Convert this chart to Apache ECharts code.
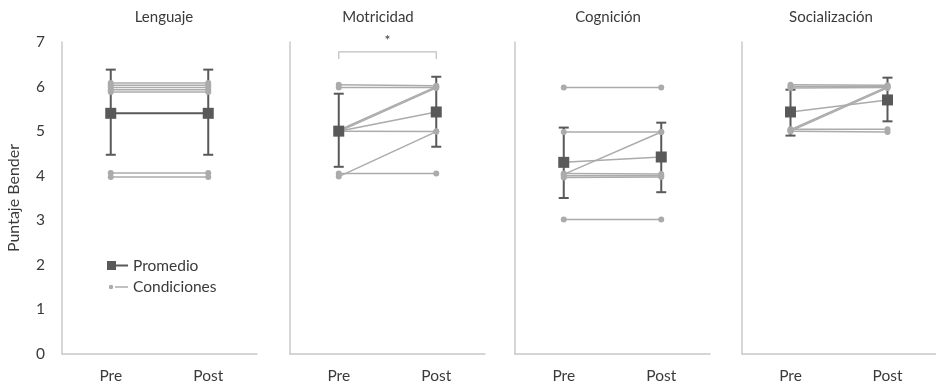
<!DOCTYPE html>
<html><head><meta charset="utf-8">
<script src="https://cdn.jsdelivr.net/npm/echarts@6/dist/echarts.min.js"></script>
<style>html,body{margin:0;padding:0;background:#fff}#c{width:936px;height:388px}</style>
</head><body><div id="c"></div>
<script>
// ---- data ----
const categories = ['Pre', 'Post'];
const panelTitles = ['Lenguaje', 'Motricidad', 'Cognición', 'Socialización'];
const yTicks = [0, 1, 2, 3, 4, 5, 6, 7];
const meanPre = [5.4, 5.0, 4.3, 5.43];
const meanPost = [5.4, 5.43, 4.42, 5.7];
const errPreLow = [4.47, 4.2, 3.5, 4.9];
const errPreHigh = [6.38, 5.84, 5.08, 5.93];
const errPostLow = [4.47, 4.65, 3.63, 5.22];
const errPostHigh = [6.38, 6.22, 5.19, 6.2];
// individual conditions (pre, post), slightly jittered as in the picture
const lenguajePre = [6.08, 6.03, 5.98, 5.93, 5.88, 4.06, 3.97];
const lenguajePost = [6.08, 6.03, 5.98, 5.93, 5.88, 4.06, 3.97];
const motricidadPre = [6.04, 5.98, 5.02, 4.99, 5.0, 3.98, 4.05];
const motricidadPost = [6.02, 5.98, 6.0, 5.97, 4.99, 4.99, 4.05];
const cognicionPre = [5.98, 4.98, 4.03, 4.05, 4.0, 3.96, 3.02];
const cognicionPost = [5.98, 4.98, 4.98, 4.04, 4.0, 3.97, 3.02];
const socializacionPre = [6.04, 6.0, 5.97, 5.03, 5.0, 5.04, 5.0];
const socializacionPost = [6.03, 6.0, 5.98, 6.0, 5.97, 5.04, 4.98];
const condPre = [lenguajePre, motricidadPre, cognicionPre, socializacionPre];
const condPost = [lenguajePost, motricidadPost, cognicionPost, socializacionPost];
const legendNames = ['Promedio', 'Condiciones'];
const sigStar = '*';

// ---- layout ----
const FONT = 'Lato, "Noto Sans", sans-serif';
const lefts = [62, 290, 515, 742];
const titleX = [164, 378, 608, 831];
const W = 195, TOP = 42, H = 312;
const DARK = '#595959', GRAY = '#ababab', AXIS = '#c8c8c8', TXT = '#3a3a3a';
const meanLineColor = [DARK, GRAY, GRAY, GRAY];

const grid = [], xAxis = [], yAxis = [], series = [];
for (let p = 0; p < 4; p++) {
  grid.push({ left: lefts[p], top: TOP, width: W, height: H });
  xAxis.push({
    type: 'category', gridIndex: p, data: categories, boundaryGap: true,
    axisLine: { lineStyle: { color: AXIS, width: 1.5 } }, axisTick: { show: false },
    axisLabel: { color: TXT, fontSize: 15.5, fontFamily: FONT, margin: 14 }
  });
  yAxis.push({
    type: 'value', gridIndex: p, min: yTicks[0], max: yTicks[yTicks.length - 1], interval: 1,
    axisLine: { show: true, lineStyle: { color: AXIS, width: 1.5 } }, axisTick: { show: false },
    splitLine: { show: false },
    axisLabel: { show: p === 0, color: TXT, fontSize: 15.5, fontFamily: FONT, margin: 17 },
    name: p === 0 ? 'Puntaje Bender' : '', nameLocation: 'middle', nameGap: 40,
    nameTextStyle: { color: TXT, fontSize: 16, fontFamily: FONT }
  });
  // error bars
  series.push({
    type: 'custom', xAxisIndex: p, yAxisIndex: p, z: 2, silent: true,
    data: [[0, errPreLow[p], errPreHigh[p]], [1, errPostLow[p], errPostHigh[p]]],
    renderItem: function (params, api) {
      const lo = api.coord([api.value(0), api.value(1)]);
      const hi = api.coord([api.value(0), api.value(2)]);
      const c = 5;
      const st = { stroke: DARK, lineWidth: 2, fill: null };
      return { type: 'group', children: [
        { type: 'line', shape: { x1: lo[0], y1: lo[1], x2: hi[0], y2: hi[1] }, style: st },
        { type: 'line', shape: { x1: lo[0] - c, y1: lo[1], x2: lo[0] + c, y2: lo[1] }, style: st },
        { type: 'line', shape: { x1: hi[0] - c, y1: hi[1], x2: hi[0] + c, y2: hi[1] }, style: st }
      ] };
    }
  });
  // conditions
  for (let i = 0; i < condPre[p].length; i++) {
    series.push({
      name: 'Condiciones', type: 'line', xAxisIndex: p, yAxisIndex: p, z: 3,
      data: [condPre[p][i], condPost[p][i]], symbol: 'circle', symbolSize: 6,
      lineStyle: { color: GRAY, width: 1.5 }, itemStyle: { color: GRAY },
      animation: false, silent: true
    });
  }
  // mean
  series.push({
    name: 'Promedio', type: 'line', xAxisIndex: p, yAxisIndex: p, z: 5,
    data: [meanPre[p], meanPost[p]], symbol: 'rect', symbolSize: 11,
    lineStyle: { color: meanLineColor[p], width: p === 0 ? 2 : 1.5 }, itemStyle: { color: DARK },
    animation: false, silent: true
  });
}
// significance bracket for Motricidad
series.push({
  type: 'custom', xAxisIndex: 1, yAxisIndex: 1, z: 4, silent: true, clip: false,
  data: [[0, 1, 6.62, 6.78, 7.03]],
  renderItem: function (params, api) {
    const a0 = api.coord([api.value(0), api.value(2)]);
    const a1 = api.coord([api.value(0), api.value(3)]);
    const b0 = api.coord([api.value(1), api.value(2)]);
    const b1 = api.coord([api.value(1), api.value(3)]);
    const s = api.coord([api.value(0), api.value(4)]);
    return { type: 'group', children: [
      { type: 'polyline', shape: { points: [a0, a1, b1, b0] }, style: { stroke: '#bfbfbf', lineWidth: 1.2, fill: null } },
      { type: 'text', x: (a1[0] + b1[0]) / 2, y: s[1], style: { text: sigStar, fill: TXT, fontSize: 14, fontFamily: FONT, align: 'center', verticalAlign: 'middle' } }
    ] };
  }
});

const graphic = [];
for (let p = 0; p < 4; p++) {
  graphic.push({ type: 'text', x: titleX[p], y: 17, style: { text: panelTitles[p], fill: TXT, fontSize: 15, fontFamily: FONT, align: 'center', verticalAlign: 'middle' } });
}
// legend
graphic.push(
  { type: 'rect', shape: { x: 107, y: 261, width: 9, height: 9 }, style: { fill: DARK } },
  { type: 'line', shape: { x1: 115, y1: 265.5, x2: 128, y2: 265.5 }, style: { stroke: DARK, lineWidth: 2 } },
  { type: 'text', x: 133, y: 266, style: { text: legendNames[0], fill: TXT, fontSize: 15.5, fontFamily: FONT, verticalAlign: 'middle' } },
  { type: 'circle', shape: { cx: 111, cy: 287, r: 2.2 }, style: { fill: GRAY } },
  { type: 'line', shape: { x1: 115, y1: 287, x2: 128, y2: 287 }, style: { stroke: GRAY, lineWidth: 1.5 } },
  { type: 'text', x: 133, y: 287, style: { text: legendNames[1], fill: TXT, fontSize: 15.5, fontFamily: FONT, verticalAlign: 'middle' } }
);

const chart = echarts.init(document.getElementById('c'), null, { renderer: 'canvas' });
chart.setOption({ animation: false, backgroundColor: '#fff', grid, xAxis, yAxis, series, graphic });
</script></body></html>
